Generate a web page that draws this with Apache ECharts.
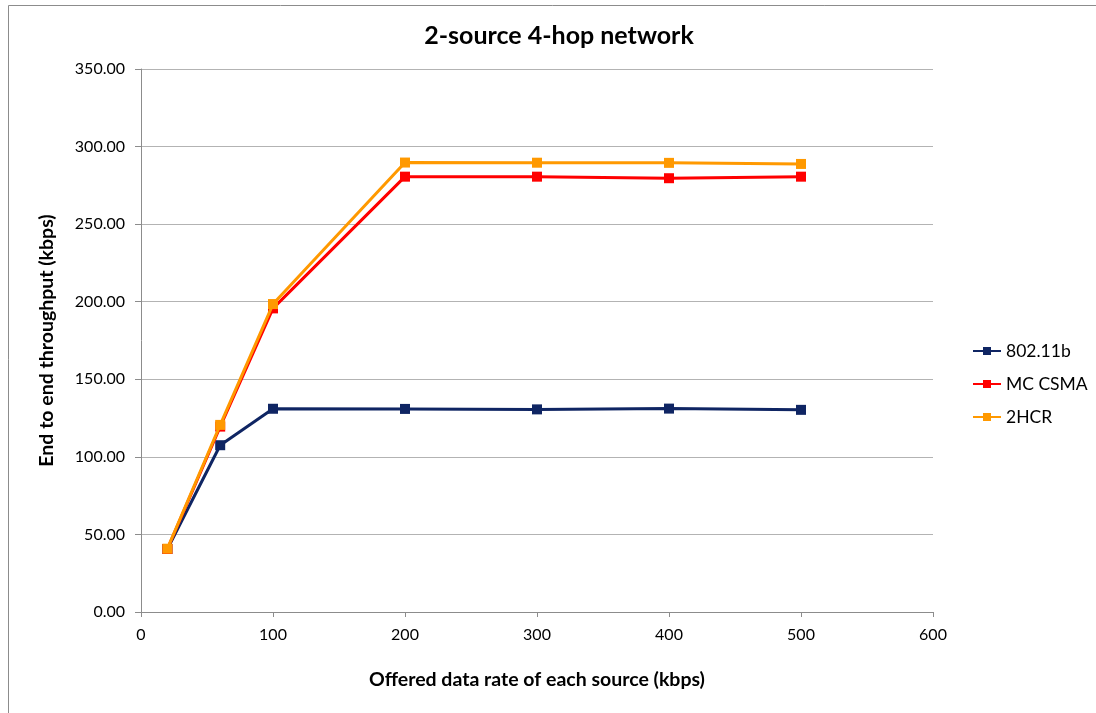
<!DOCTYPE html>
<html>
<head>
<meta charset="utf-8">
<script src="https://cdn.jsdelivr.net/npm/echarts@6/dist/echarts.min.js"></script>
<style>
  html, body { margin: 0; padding: 0; background: #fff; }
  #chart { width: 1096px; height: 713px; }
</style>
</head>
<body>
<div id="chart"></div>
<script>
// Offered data rate of each source (kbps)
const offeredRates = [20, 60, 100, 200, 300, 400, 500];
// End-to-end throughput (kbps) per MAC scheme
const seriesNames = ['802.11b', 'MC CSMA', '2HCR'];
const throughput80211b = [40.6, 107.5, 131.0, 130.9, 130.6, 131.1, 130.3];
const throughputMcCsma = [40.6, 119.5, 195.7, 280.6, 280.6, 279.6, 280.6];
const throughput2hcr = [40.8, 120.6, 198.5, 289.7, 289.6, 289.5, 288.8];
const seriesColors = ['#0f2563', '#ff0000', '#ff9900'];

const fontFamily = 'Lato, "Open Sans", sans-serif';

function pairs(xs, ys) {
  return xs.map((x, i) => [x, ys[i]]);
}

const allValues = [throughput80211b, throughputMcCsma, throughput2hcr];

const chart = echarts.init(document.getElementById('chart'), null, { renderer: 'canvas' });

chart.setOption({
  backgroundColor: '#ffffff',
  animation: false,
  textStyle: { fontFamily: fontFamily },
  graphic: [{
    type: 'rect',
    shape: { x: 8.5, y: 5.5, width: 1100, height: 720 },
    style: { fill: 'none', stroke: '#8c8c8c', lineWidth: 1 },
    z: -1
  }],
  title: {
    text: '2-source 4-hop network',
    left: 554,
    textAlign: 'center',
    top: 18,
    textStyle: { fontFamily: fontFamily, fontSize: 25, fontWeight: 'bold', color: '#000' }
  },
  legend: {
    orient: 'vertical',
    left: 967,
    top: 337,
    itemWidth: 28,
    itemHeight: 10,
    itemGap: 15,
    data: seriesNames,
    textStyle: { fontFamily: fontFamily, fontSize: 17.5, color: '#000' }
  },
  grid: { left: 141, right: 163, top: 69, bottom: 101 },
  xAxis: {
    type: 'value',
    min: 0,
    max: 600,
    interval: 100,
    name: 'Offered data rate of each source (kbps)',
    nameLocation: 'middle',
    nameGap: 58,
    nameTextStyle: { fontFamily: fontFamily, fontSize: 19.5, fontWeight: 'bold', color: '#000' },
    axisLine: { lineStyle: { color: '#8c8c8c', width: 1 } },
    axisTick: { show: true, length: 5, lineStyle: { color: '#8c8c8c' } },
    axisLabel: { fontFamily: fontFamily, fontSize: 16, color: '#000', margin: 15 },
    splitLine: { show: false }
  },
  yAxis: {
    type: 'value',
    min: 0,
    max: 350,
    interval: 50,
    name: 'End to end throughput (kbps)',
    nameLocation: 'middle',
    nameGap: 84,
    nameTextStyle: { fontFamily: fontFamily, fontSize: 19.5, fontWeight: 'bold', color: '#000' },
    axisLine: { show: true, lineStyle: { color: '#8c8c8c', width: 1 } },
    axisTick: { show: true, length: 6, lineStyle: { color: '#8c8c8c' } },
    axisLabel: {
      fontFamily: fontFamily, fontSize: 16, color: '#000', margin: 16,
      formatter: v => v.toFixed(2)
    },
    splitLine: { show: true, lineStyle: { color: '#b3b3b3', width: 1 } }
  },
  series: seriesNames.map((name, i) => ({
    name: name,
    type: 'line',
    data: pairs(offeredRates, allValues[i]),
    symbol: 'rect',
    symbolSize: 10,
    lineStyle: { color: seriesColors[i], width: 3 },
    itemStyle: { color: seriesColors[i] },
    z: 2 + i
  }))
});
</script>
</body>
</html>
